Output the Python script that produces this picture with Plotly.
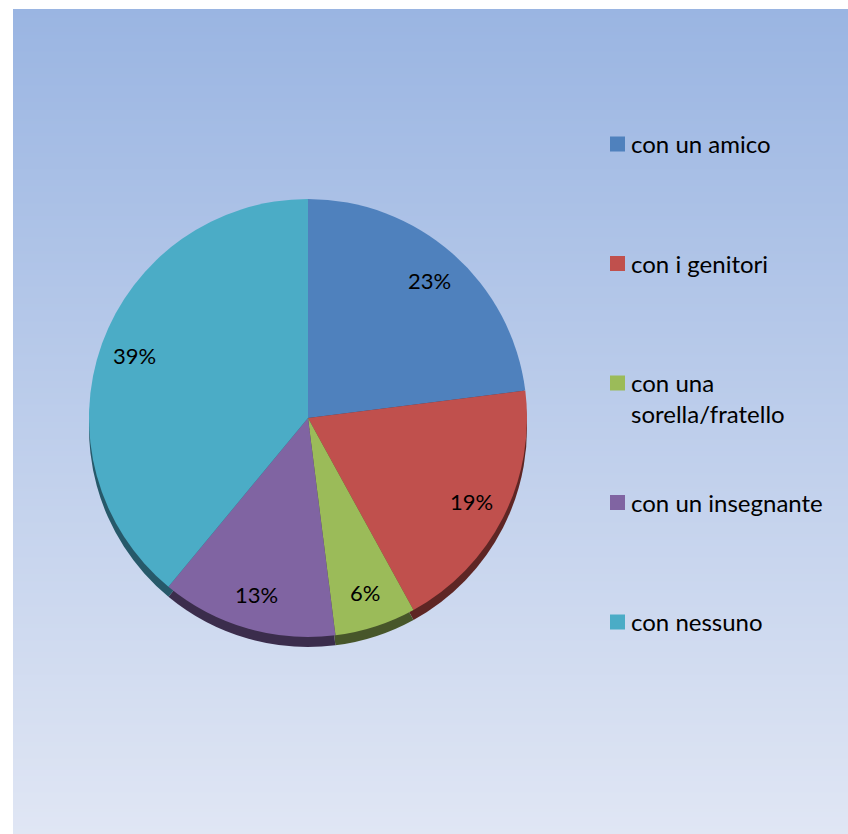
import math
import plotly.graph_objects as go

# Survey answers and their shares (%)
categories = ["con un amico", "con i genitori", "con una<br>sorella/fratello",
              "con un insegnante", "con nessuno"]
values = [23, 19, 6, 13, 39]
colors = ["#4f81bd", "#c0504d", "#9bbb59", "#8064a2", "#4bacc6"]
shade_colors = ["#2b4566", "#5e2624", "#47562a", "#3b2d4c", "#27596a"]

W, H = 848, 834
ML, MT = 13, 9
PW, PH = W - ML, H - MT

# pie geometry in pixels
cx, cy, R = 308, 418, 219
depth = 10


def dom(cx_px, cy_px, r):
    x0 = (cx_px - r - ML) / PW
    x1 = (cx_px + r - ML) / PW
    y0 = (H - (cy_px + r)) / PH
    y1 = (H - (cy_px - r)) / PH
    return dict(x=[x0, x1], y=[y0, y1])


fig = go.Figure()

# soft vertical gradient behind the chart
fig.add_trace(go.Heatmap(
    z=[[0, 0], [1, 1]], x=[0, 1], y=[0, 1], zsmooth="best",
    colorscale=[[0, "#e0e6f4"], [1, "#9ab5e2"]], showscale=False,
    hoverinfo="skip",
))

# side of the 3D disc
fig.add_trace(go.Pie(
    labels=categories, values=values, sort=False, direction="clockwise",
    rotation=0, marker=dict(colors=shade_colors, line=dict(width=0)),
    textinfo="none", showlegend=False, hoverinfo="skip",
    domain=dom(cx, cy + depth, R),
))

# top face
fig.add_trace(go.Pie(
    labels=categories, values=values, sort=False, direction="clockwise",
    rotation=0, marker=dict(colors=colors, line=dict(width=0)),
    textinfo="none", showlegend=False,
    domain=dom(cx, cy, R),
))

annotations = []
total = sum(values)
cum = 0
for v in values:
    mid = (cum + v / 2) / total * 2 * math.pi
    cum += v
    px = cx + 0.84 * R * math.sin(mid)
    py = cy - 0.84 * R * math.cos(mid)
    annotations.append(dict(
        x=(px - ML) / PW, y=(H - py) / PH, xref="paper", yref="paper",
        text=f"{v}%", showarrow=False, xanchor="center", yanchor="middle",
        font=dict(size=22, color="#000000"),
    ))

# legend entries
shapes = []
first_y = 144
step = 119.5
for i, (lab, col) in enumerate(zip(categories, colors)):
    yc = first_y + i * step
    shapes.append(dict(
        type="rect", xref="paper", yref="paper",
        x0=(610 - ML) / PW, x1=(625 - ML) / PW,
        y0=(H - (yc + 7.5)) / PH, y1=(H - (yc - 7.5)) / PH,
        fillcolor=col, line=dict(width=0),
    ))
    annotations.append(dict(
        x=(629 - ML) / PW, y=(H - (yc - 17)) / PH, xref="paper", yref="paper",
        text=lab, showarrow=False, xanchor="left", yanchor="top", align="left",
        font=dict(size=24, color="#000000"),
    ))

fig.update_layout(
    width=W, height=H,
    margin=dict(l=ML, t=MT, r=0, b=0, pad=0),
    paper_bgcolor="#ffffff", plot_bgcolor="#ffffff",
    font=dict(family="Lato, 'Open Sans', sans-serif"),
    xaxis=dict(range=[0, 1], visible=False, fixedrange=True),
    yaxis=dict(range=[0, 1], visible=False, fixedrange=True),
    showlegend=False,
    annotations=annotations, shapes=shapes,
)

fig.write_html("out.html")
